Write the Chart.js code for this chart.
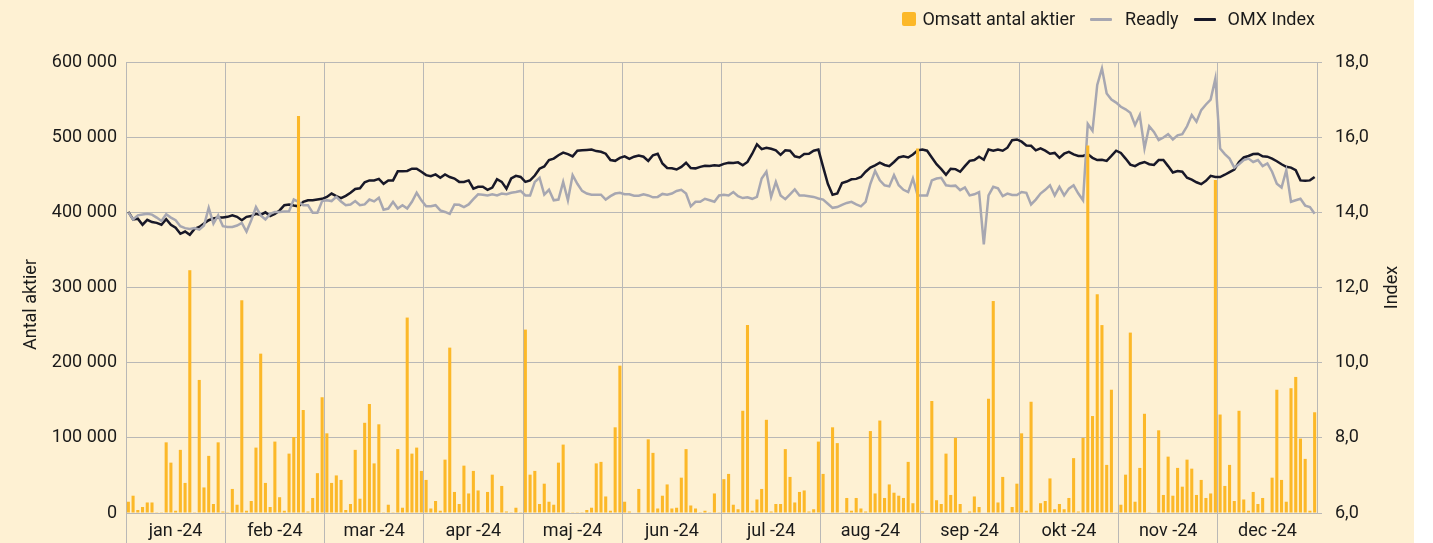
<!DOCTYPE html>
<html>
<head>
<meta charset="utf-8">
<script src="https://cdn.jsdelivr.net/npm/chart.js@4.4.1/dist/chart.umd.min.js"></script>
<style>
  html, body { margin: 0; padding: 0; background: #ffffff; }
  #wrap { position: relative; width: 1414px; height: 543px; background: #fef1d3; overflow: hidden; }
  #legend { position: absolute; top: 8px; right: 99px; display: flex; align-items: center;
            font-family: Roboto, "Noto Sans", sans-serif; font-size: 18px; color: #1a1a1a; line-height: 22px; }
  #legend .item { display: flex; align-items: center; }
  #legend .sq { width: 14px; height: 14px; border-radius: 2px; margin-right: 6px; }
  #legend .ln { width: 22px; height: 3px; border-radius: 1px; margin-right: 13px; }
  #legend .item + .item { margin-left: 15px; }
</style>
</head>
<body>
<div id="wrap">
  <canvas id="c" width="1414" height="543"></canvas>
  <div id="legend"></div>
</div>
<script>
// ---- tick labels (months) ----
const months = ['jan -24','feb -24','mar -24','apr -24','maj -24','jun -24','jul -24','aug -24','sep -24','okt -24','nov -24','dec -24'];
const slotsPerMonth = 21;

// ---- series: Omsatt antal aktier (traded shares per day) ----
const volume = [
  15000,23000,4000,8000,14000,14000,1000,1000,94000,67000,3000,84000,40000,323000,1000,177000,34000,76000,12000,94000,2000,
  1000,32000,11000,283000,3000,16000,87000,212000,40000,8000,95000,21000,3000,79000,101000,528000,137000,2000,20000,53000,154000,
  106000,40000,50000,44000,4000,12000,84000,19000,120000,145000,66000,118000,1000,11000,1000,85000,7000,260000,79000,87000,56000,
  44000,6000,16000,3000,71000,220000,28000,12000,63000,26000,56000,30000,1000,28000,51000,1000,36000,2000,1000,7000,1000,
  244000,51000,56000,12000,39000,15000,11000,67000,91000,1000,1000,1000,1000,4000,7000,66000,68000,22000,3000,114000,196000,
  15000,2000,0,32000,0,98000,80000,6000,23000,38000,6000,7000,47000,85000,10000,6000,1000,3000,1000,26000,1000,
  45000,52000,11000,5000,136000,250000,3000,18000,32000,124000,2000,12000,12000,85000,48000,14000,28000,30000,2000,5000,95000,
  52000,0,114000,93000,1000,20000,3000,20000,6000,2000,109000,26000,123000,20000,38000,27000,23000,20000,68000,13000,485000,
  2000,0,149000,17000,12000,79000,24000,100000,12000,0,2000,22000,8000,0,152000,282000,14000,48000,0,8000,39000,
  106000,3000,148000,0,13000,16000,46000,5000,12000,5000,20000,73000,2000,100000,489000,129000,291000,250000,64000,164000,1000,
  11000,51000,240000,15000,60000,132000,1000,0,110000,24000,75000,23000,60000,35000,71000,59000,24000,44000,20000,26000,443000,
  131000,36000,64000,16000,136000,18000,3000,28000,12000,20000,0,47000,164000,44000,15000,166000,181000,99000,72000,3000,134000
];

// ---- series: Readly share price ----
const readly = [
  14.00,13.81,13.92,13.94,13.96,13.94,13.86,13.77,13.95,13.86,13.79,13.63,13.58,13.56,13.58,13.54,13.65,14.12,13.70,13.92,13.63,
  13.61,13.61,13.65,13.72,13.49,13.79,14.14,13.92,13.81,13.96,14.01,14.01,14.02,14.03,14.34,14.28,14.19,14.19,13.99,13.99,14.30,
  14.32,14.30,14.41,14.29,14.19,14.21,14.30,14.19,14.21,14.34,14.29,14.39,14.07,14.10,14.28,14.10,14.19,14.10,14.28,14.52,14.32,
  14.16,14.16,14.19,14.05,14.01,13.96,14.21,14.20,14.14,14.21,14.35,14.48,14.47,14.45,14.48,14.45,14.50,14.48,14.52,14.54,14.57,
  14.45,14.45,14.81,14.92,14.47,14.60,14.32,14.34,14.81,14.32,14.99,14.76,14.57,14.50,14.47,14.47,14.47,14.34,14.43,14.50,14.52,
  14.48,14.48,14.44,14.44,14.48,14.45,14.40,14.41,14.49,14.47,14.50,14.57,14.60,14.50,14.16,14.28,14.28,14.36,14.32,14.28,14.45,
  14.47,14.45,14.54,14.43,14.38,14.40,14.36,14.41,14.90,15.08,14.41,14.81,14.45,14.35,14.48,14.61,14.45,14.45,14.43,14.41,14.37,
  14.34,14.23,14.12,14.14,14.20,14.25,14.28,14.21,14.16,14.28,14.76,15.10,14.85,14.72,14.69,14.99,14.72,14.60,14.54,14.90,14.45,
  14.45,14.45,14.85,14.90,14.92,14.72,14.70,14.71,14.59,14.66,14.45,14.48,14.54,13.15,14.45,14.68,14.64,14.43,14.50,14.46,14.46,
  14.54,14.52,14.21,14.34,14.50,14.60,14.72,14.45,14.68,14.45,14.63,14.72,14.50,14.32,16.35,16.17,17.39,17.83,17.16,17.00,16.92,
  16.81,16.74,16.65,16.32,16.59,15.70,16.29,16.14,15.92,15.99,16.08,15.94,16.05,16.08,16.29,16.59,16.41,16.72,16.87,17.00,17.56,
  15.70,15.55,15.43,15.19,15.28,15.39,15.43,15.34,15.39,15.23,15.30,15.08,14.76,14.66,15.12,14.28,14.32,14.36,14.18,14.14,13.96
];

// ---- series: OMX Index (rebased) ----
const omx = [
  14.01,13.81,13.83,13.67,13.80,13.74,13.72,13.67,13.82,13.67,13.59,13.43,13.49,13.40,13.56,13.61,13.70,13.79,13.84,13.86,13.86,
  13.88,13.92,13.88,13.79,13.88,13.90,13.96,13.93,14.00,13.90,13.96,14.05,14.19,14.21,14.18,14.16,14.28,14.32,14.32,14.34,14.36,
  14.41,14.50,14.43,14.38,14.44,14.52,14.62,14.64,14.80,14.85,14.85,14.89,14.76,14.85,14.85,15.09,15.09,15.10,15.16,15.16,15.08,
  14.99,14.96,15.01,14.92,15.01,14.94,14.90,14.81,14.81,14.85,14.63,14.68,14.68,14.60,14.66,14.88,14.81,14.63,14.90,14.97,14.94,
  14.81,14.85,14.98,15.16,15.22,15.39,15.43,15.52,15.59,15.55,15.49,15.64,15.65,15.66,15.67,15.63,15.61,15.56,15.39,15.37,15.45,
  15.49,15.42,15.48,15.51,15.48,15.37,15.52,15.56,15.30,15.18,15.17,15.14,15.21,15.32,15.18,15.17,15.21,15.24,15.23,15.25,15.24,
  15.29,15.32,15.31,15.33,15.25,15.34,15.56,15.81,15.68,15.72,15.69,15.65,15.53,15.65,15.64,15.49,15.46,15.55,15.56,15.64,15.67,
  15.21,14.76,14.47,14.50,14.78,14.82,14.88,14.89,14.94,15.08,15.19,15.25,15.32,15.26,15.23,15.34,15.46,15.49,15.46,15.54,15.65,
  15.67,15.64,15.46,15.28,15.15,15.00,15.16,15.15,15.08,15.23,15.37,15.39,15.48,15.40,15.67,15.64,15.67,15.64,15.72,15.92,15.94,
  15.88,15.78,15.77,15.65,15.70,15.64,15.56,15.58,15.45,15.56,15.61,15.54,15.50,15.50,15.55,15.45,15.39,15.40,15.37,15.50,15.64,
  15.58,15.43,15.27,15.23,15.30,15.34,15.28,15.26,15.39,15.39,15.23,15.06,15.10,15.08,14.92,14.87,14.80,14.75,14.84,14.97,14.94,
  14.94,15.00,15.07,15.14,15.34,15.46,15.50,15.55,15.56,15.49,15.48,15.43,15.36,15.28,15.21,15.19,15.12,14.85,14.84,14.85,14.94
];

// category slots: one per trading-day slot, grouped by month
const categories = months.flatMap(m => Array.from({length: slotsPerMonth}, () => m));

const seriesNames = ['Omsatt antal aktier', 'Readly', 'OMX Index'];
const colBar = '#fcb828', colReadly = '#a7a7b1', colOmx = '#181828';
const gridCol = '#b9b8b6';
const textCol = '#1a1a1a';
const FONT = 'Roboto, "Noto Sans", sans-serif';

function fmtThousands(v) {
  return String(Math.round(v)).replace(/\B(?=(\d{3})+(?!\d))/g, ' ');
}

const axisTitles = {
  id: 'axisTitles',
  afterDraw(chart) {
    const {ctx, chartArea} = chart;
    ctx.save();
    ctx.fillStyle = textCol;
    ctx.font = '18px ' + FONT;
    ctx.textAlign = 'center';
    ctx.textBaseline = 'middle';
    const midY = (chartArea.top + chartArea.bottom) / 2;
    ctx.save();
    ctx.translate(chartArea.left - 95, midY + 17);
    ctx.rotate(-Math.PI / 2);
    ctx.fillText('Antal aktier', 0, 0);
    ctx.restore();
    ctx.save();
    ctx.translate(chartArea.right + 75, midY);
    ctx.rotate(-Math.PI / 2);
    ctx.fillText('Index', 0, 0);
    ctx.restore();
    ctx.restore();
  }
};

Chart.defaults.font.family = FONT;
Chart.defaults.font.size = 18;
Chart.defaults.color = textCol;

const chart = new Chart(document.getElementById('c'), {
  type: 'bar',
  data: {
    labels: categories,
    datasets: [
      { type: 'bar', label: seriesNames[0], data: volume, yAxisID: 'y',
        backgroundColor: colBar, barPercentage: 0.65, categoryPercentage: 1.0, order: 0 },
      { type: 'line', label: seriesNames[1], data: readly, yAxisID: 'y1',
        borderColor: colReadly, borderWidth: 2.5, pointRadius: 0, tension: 0, order: 1 },
      { type: 'line', label: seriesNames[2], data: omx, yAxisID: 'y1',
        borderColor: colOmx, borderWidth: 2.5, pointRadius: 0, tension: 0, order: 2 }
    ]
  },
  options: {
    responsive: false,
    animation: false,
    devicePixelRatio: 1,
    layout: { padding: { top: 62, left: 0, right: 0, bottom: 0 } },
    plugins: { legend: { display: false }, tooltip: { enabled: false } },
    scales: {
      x: {
        type: 'category',
        offset: true,
        grid: {
          offset: true,
          color: (c) => (c.index !== undefined && c.index % slotsPerMonth === 0) ? gridCol : 'rgba(0,0,0,0)',
          lineWidth: 1,
          drawTicks: true,
          tickLength: 30
        },
        border: { display: true, color: gridCol },
        ticks: {
          autoSkip: false, maxRotation: 0, minRotation: 0, padding: -22,
          font: { size: 18 }, color: textCol,
          callback: (val, idx) => (idx % slotsPerMonth === 10) ? months[Math.floor(idx / slotsPerMonth)] : ''
        },
        afterFit: (s) => { s.height = 30; }
      },
      y: {
        position: 'left',
        min: 0, max: 600000,
        grid: { color: gridCol, drawTicks: false, lineWidth: 1 },
        border: { display: true, color: gridCol },
        ticks: { stepSize: 100000, padding: 9, color: textCol, font: { size: 18 },
                 callback: (v) => fmtThousands(v) },
        afterFit: (s) => { s.width = 126; }
      },
      y1: {
        position: 'right',
        min: 6, max: 18,
        grid: { drawOnChartArea: false, color: gridCol, drawTicks: true, tickLength: 5 },
        border: { display: true, color: gridCol },
        ticks: { stepSize: 2, padding: 13, color: textCol, font: { size: 18 },
                 callback: (v) => v.toFixed(1).replace('.', ',') },
        afterFit: (s) => { s.width = 97; }
      }
    }
  },
  plugins: [axisTitles]
});

// HTML legend built from the chart's datasets
const legendEl = document.getElementById('legend');
chart.data.datasets.forEach((ds, i) => {
  const item = document.createElement('div');
  item.className = 'item';
  const mark = document.createElement('span');
  if (ds.type === 'bar') { mark.className = 'sq'; mark.style.background = ds.backgroundColor; }
  else { mark.className = 'ln'; mark.style.background = ds.borderColor; }
  if (i === 2) mark.style.marginRight = '12px';
  const txt = document.createElement('span');
  txt.textContent = ds.label;
  item.appendChild(mark); item.appendChild(txt);
  legendEl.appendChild(item);
});
</script>
</body>
</html>
